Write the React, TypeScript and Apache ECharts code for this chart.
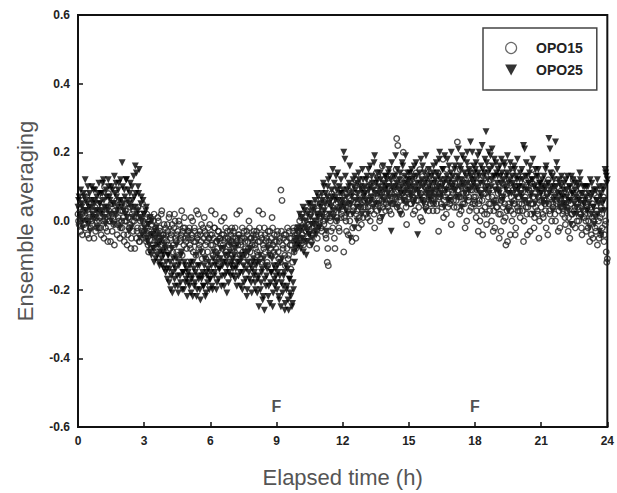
import React, { useEffect, useRef } from "react";
import * as echarts from "echarts";

// Sampling step of the ensemble-averaged records (hours).
// Set A is sampled at k*STEP, set B at k*STEP + STEP/2.
const TIME_STEP = 0.05;

// OPO15, set A: one row per hour (20 samples / hour), last value at 24 h
const OPO15_A: number[] = [
  0.02,-0.01,0.05,0.0,-0.04,0.03,0.01,-0.02,0.07,0.0,-0.05,0.02,0.04,-0.01,0.01,0.06,-0.03,0.0,0.03,-0.02,
  0.01,-0.04,0.04,0.0,0.1,-0.02,0.02,-0.06,0.03,0.0,0.05,-0.03,0.01,-0.07,0.02,0.06,-0.01,0.0,-0.05,0.03,
  -0.02,0.01,-0.06,0.03,0.0,-0.04,0.05,-0.01,-0.08,0.02,-0.03,0.0,0.04,-0.05,-0.02,0.01,-0.06,0.02,-0.03,0.0,
  -0.03,0.01,-0.06,-0.02,-0.09,0.0,-0.04,-0.01,-0.07,0.02,-0.05,-0.03,-0.08,0.0,-0.02,-0.06,0.03,-0.04,-0.01,-0.05,
  -0.04,-0.01,-0.07,0.02,-0.05,-0.03,-0.09,-0.02,0.0,-0.06,-0.04,-0.1,-0.01,-0.05,0.03,-0.03,-0.07,-0.02,-0.06,-0.04,
  -0.05,-0.02,-0.08,-0.04,0.0,-0.06,-0.03,-0.1,-0.05,0.02,-0.07,-0.04,-0.01,-0.09,-0.05,-0.03,-0.11,-0.06,-0.02,-0.05,
  -0.04,0.03,-0.07,-0.05,-0.02,-0.09,-0.06,-0.03,-0.11,-0.05,0.0,-0.08,-0.04,-0.06,-0.02,-0.1,-0.05,-0.07,-0.03,-0.06,
  -0.06,-0.03,-0.09,-0.05,0.02,-0.07,-0.04,-0.1,-0.06,-0.02,-0.12,-0.05,-0.08,-0.03,-0.06,0.0,-0.09,-0.05,-0.07,-0.04,
  -0.05,-0.08,-0.03,-0.1,0.03,-0.06,-0.04,-0.12,-0.07,-0.02,-0.09,-0.05,-0.13,-0.06,-0.03,-0.08,0.01,-0.07,-0.04,-0.1,
  -0.06,-0.03,-0.11,-0.05,0.09,0.06,-0.08,-0.04,-0.13,-0.06,-0.02,-0.1,-0.05,-0.14,-0.07,-0.03,-0.09,-0.04,-0.06,-0.02,
  -0.03,0.0,-0.05,0.02,-0.02,-0.06,0.01,-0.03,0.04,-0.01,-0.07,0.0,-0.04,0.03,-0.02,0.05,-0.01,-0.05,0.02,0.0,
  0.01,-0.03,0.04,-0.01,0.06,-0.05,-0.12,-0.13,0.02,0.0,0.08,-0.02,0.03,-0.08,0.05,0.01,0.1,-0.03,0.04,0.02,
  0.03,-0.09,0.06,0.0,0.08,-0.04,0.05,0.02,0.1,-0.02,0.04,0.07,-0.05,0.03,0.11,0.01,0.06,-0.01,0.09,0.04,
  0.06,0.02,0.09,0.04,0.12,0.0,0.07,0.05,0.1,-0.02,0.08,0.03,0.13,0.06,0.01,0.09,0.16,0.05,0.07,0.03,
  0.08,0.04,0.11,0.06,0.02,0.09,0.13,0.05,0.1,0.24,0.22,0.07,0.03,0.12,0.08,0.2,0.06,0.1,-0.01,0.09,
  0.07,0.11,0.05,0.09,0.02,0.13,0.08,0.06,0.1,0.04,0.15,0.08,0.0,0.11,0.07,0.05,0.12,0.09,0.03,0.08,
  0.06,0.1,0.03,0.08,0.13,0.05,0.09,-0.03,0.07,0.11,0.04,0.18,0.06,0.09,0.02,0.08,0.12,0.05,0.07,0.1,
  0.08,0.04,0.11,0.06,0.23,0.09,0.02,0.07,0.12,0.05,0.1,-0.02,0.08,0.14,0.06,0.03,0.09,0.11,0.05,0.07,
  0.05,0.01,0.09,-0.03,0.06,0.12,0.03,-0.04,0.08,0.04,0.1,0.02,0.07,0.16,0.05,0.0,0.09,0.03,-0.02,0.06,
  0.04,0.08,-0.05,0.02,0.06,0.11,0.0,0.05,-0.07,0.03,0.09,0.04,-0.04,0.07,0.14,0.02,0.05,-0.02,0.08,0.03,
  0.05,0.01,0.08,0.03,-0.06,0.06,0.12,0.02,0.04,0.09,-0.03,0.05,0.15,0.07,0.01,0.04,0.1,0.02,-0.05,0.06,
  0.04,0.08,0.01,0.06,0.03,0.11,-0.04,0.05,0.02,0.09,0.14,0.04,0.07,0.0,0.05,0.1,0.03,-0.02,0.06,0.04,
  0.03,0.06,-0.01,0.04,0.09,0.01,-0.05,0.05,0.02,0.12,0.03,-0.02,0.07,0.04,0.0,0.08,0.02,-0.04,0.05,0.01,
  0.02,-0.03,0.05,0.0,-0.06,0.04,0.01,-0.05,0.08,-0.02,0.03,-0.07,0.0,0.06,-0.04,0.02,0.1,-0.06,-0.01,-0.09,
  -0.11,
];

// OPO15, set B (half-step offsets), one row per hour
const OPO15_B: number[] = [
  0.0,0.04,-0.03,0.02,0.06,-0.01,0.03,0.08,-0.04,0.01,0.05,-0.02,0.0,0.03,-0.05,0.04,0.01,-0.02,0.06,0.0,
  -0.02,0.03,0.07,-0.05,0.01,0.04,-0.03,0.08,0.0,-0.06,0.02,0.05,-0.01,0.03,0.09,-0.04,0.01,0.06,-0.02,0.0,
  0.03,-0.04,0.0,0.05,-0.07,0.01,-0.02,0.04,-0.05,0.0,0.03,-0.08,0.01,-0.03,0.04,-0.06,0.0,-0.02,0.05,-0.04,
  -0.01,-0.05,0.02,-0.07,-0.03,0.01,-0.08,-0.04,0.0,-0.06,-0.02,-0.09,0.01,-0.05,-0.03,0.02,-0.07,-0.04,-0.08,-0.02,
  -0.06,-0.03,0.01,-0.08,-0.04,-0.01,-0.07,0.02,-0.05,-0.09,-0.03,0.0,-0.06,-0.04,-0.1,-0.02,0.01,-0.05,-0.08,-0.03,
  -0.03,-0.07,0.01,-0.05,-0.09,-0.02,-0.06,0.03,-0.04,-0.08,-0.03,-0.06,-0.11,-0.02,0.01,-0.07,-0.04,-0.09,-0.05,-0.01,
  -0.07,-0.04,-0.1,-0.02,0.02,-0.06,-0.08,-0.03,-0.05,-0.12,-0.04,-0.07,0.01,-0.05,-0.09,-0.03,-0.06,-0.11,-0.04,-0.02,
  -0.05,-0.08,-0.02,-0.06,-0.11,-0.04,0.03,-0.07,-0.05,-0.09,-0.03,-0.06,-0.1,-0.04,-0.08,-0.02,-0.05,-0.12,-0.06,-0.03,
  -0.07,-0.04,-0.09,-0.06,-0.02,-0.11,-0.05,0.02,-0.08,-0.04,-0.06,-0.12,-0.03,-0.07,-0.1,-0.05,-0.02,-0.09,-0.06,-0.08,
  -0.04,-0.09,-0.06,-0.12,-0.03,-0.07,-0.05,-0.1,-0.04,-0.08,-0.11,-0.03,-0.07,-0.05,-0.12,-0.02,-0.06,-0.08,-0.04,-0.05,
  -0.05,-0.02,0.01,-0.04,-0.07,0.0,-0.03,0.03,-0.05,-0.01,0.02,-0.06,-0.02,0.04,-0.03,0.0,-0.08,0.03,-0.01,0.05,
  -0.02,0.03,0.0,0.07,-0.04,0.02,-0.08,0.05,0.01,-0.03,0.06,0.02,-0.05,0.09,0.0,0.04,-0.02,0.07,0.01,0.05,
  0.05,0.01,0.08,-0.03,0.04,0.09,0.0,0.06,-0.06,0.03,0.07,0.12,0.02,0.05,-0.02,0.08,0.04,0.1,0.01,0.06,
  0.04,0.08,0.01,0.1,0.06,0.03,0.11,0.07,0.02,0.09,0.14,0.05,0.08,0.0,0.1,0.06,0.04,0.12,0.08,0.05,
  0.1,0.06,0.03,0.13,0.08,0.05,0.11,0.07,0.15,0.04,0.09,0.12,0.06,0.02,0.1,0.14,0.07,0.04,0.11,0.08,
  0.09,0.05,0.12,0.07,0.1,0.03,0.14,0.08,0.06,0.11,0.01,0.09,0.13,0.06,0.1,0.04,0.08,0.15,0.07,0.05,
  0.08,0.12,0.05,0.1,0.07,0.03,0.14,0.08,0.11,0.05,0.09,0.01,0.12,0.07,0.15,0.04,0.1,0.06,-0.01,0.09,
  0.06,0.1,0.13,0.04,0.09,0.07,0.15,0.03,0.11,0.08,0.05,0.12,0.0,0.1,0.07,0.16,0.04,0.09,0.13,0.06,
  0.07,0.03,0.11,0.05,0.0,0.09,0.06,0.13,0.02,0.08,-0.01,0.1,0.05,0.03,0.12,0.07,-0.03,0.06,0.1,0.04,
  0.06,0.02,0.1,-0.03,0.07,0.04,0.12,0.01,0.08,-0.06,0.05,0.11,0.03,0.0,0.09,0.06,-0.04,0.1,0.04,0.07,
  0.03,0.09,0.05,0.13,0.0,0.07,0.04,-0.04,0.1,0.06,0.02,0.11,0.05,-0.02,0.08,0.12,0.03,0.07,0.0,0.09,
  0.06,0.02,0.1,0.05,-0.02,0.08,0.12,0.03,0.07,0.0,0.05,0.09,0.02,0.11,0.06,-0.03,0.08,0.04,0.12,0.02,
  0.05,0.01,0.08,0.03,-0.03,0.06,0.1,0.02,-0.01,0.07,0.04,0.09,0.0,0.05,0.11,0.02,-0.02,0.06,0.03,0.08,
  0.0,0.04,-0.02,0.07,0.02,-0.04,0.05,0.0,0.09,-0.03,0.03,0.06,-0.05,0.01,0.04,-0.02,0.07,-0.04,0.0,-0.12,
];

// OPO25, set A: one row per hour (20 samples / hour), last value at 24 h
const OPO25_A: number[] = [
  0.04,0.07,0.01,0.05,-0.02,0.08,0.03,0.06,0.0,0.1,0.04,-0.03,0.06,0.02,0.09,0.05,0.01,0.07,0.03,0.11,
  0.05,0.02,0.08,0.12,0.04,-0.01,0.07,0.03,0.1,0.06,0.0,0.09,0.05,0.13,0.02,0.07,0.04,0.11,-0.02,0.06,
  0.17,0.05,0.09,0.02,0.12,0.06,-0.03,0.08,0.04,0.1,0.01,0.07,0.16,0.14,0.03,0.08,-0.05,0.05,0.0,0.06,
  0.02,-0.03,0.04,-0.06,-0.01,-0.09,-0.04,0.0,-0.08,-0.12,-0.05,-0.02,-0.1,-0.07,-0.13,-0.06,-0.11,-0.09,-0.14,-0.08,
  -0.12,-0.17,-0.1,-0.14,-0.2,-0.08,-0.15,-0.13,-0.19,-0.11,-0.16,-0.21,-0.12,-0.18,-0.09,-0.15,-0.2,-0.13,-0.17,-0.22,
  -0.15,-0.19,-0.12,-0.17,-0.22,-0.14,-0.18,-0.1,-0.2,-0.16,-0.13,-0.23,-0.17,-0.15,-0.19,-0.11,-0.21,-0.16,-0.14,-0.2,
  -0.17,-0.13,-0.2,-0.09,-0.15,-0.12,-0.18,-0.06,-0.14,-0.11,-0.19,-0.13,-0.08,-0.16,-0.12,-0.21,-0.1,-0.15,-0.07,-0.13,
  -0.11,-0.16,-0.08,-0.14,-0.19,-0.12,-0.05,-0.15,-0.1,-0.2,-0.13,-0.09,-0.17,-0.22,-0.12,-0.15,-0.08,-0.18,-0.14,-0.11,
  -0.15,-0.2,-0.12,-0.17,-0.25,-0.1,-0.18,-0.14,-0.22,-0.26,-0.13,-0.16,-0.08,-0.19,-0.24,-0.15,-0.11,-0.21,-0.17,-0.14,
  -0.18,-0.13,-0.22,-0.16,-0.25,-0.11,-0.19,-0.15,-0.24,-0.2,-0.14,-0.26,-0.17,-0.22,-0.25,-0.18,-0.09,-0.06,-0.03,-0.07,
  -0.05,0.02,-0.08,-0.02,0.04,-0.06,0.0,-0.1,-0.03,0.05,-0.04,0.01,-0.07,0.03,-0.01,0.06,-0.04,0.02,0.07,-0.02,
  0.04,0.08,0.01,0.1,0.05,-0.03,0.07,0.12,0.02,0.06,0.09,0.15,0.03,0.07,0.13,0.0,0.06,0.1,0.04,0.08,
  0.06,0.2,0.18,0.03,0.09,0.05,0.11,-0.05,0.07,0.02,0.1,0.13,0.06,0.0,0.08,0.12,0.04,0.09,0.15,0.07,
  0.1,0.06,0.13,0.02,0.09,0.16,0.07,0.11,0.04,0.19,0.08,0.12,0.05,0.1,0.14,0.07,0.01,0.11,0.09,0.13,
  0.12,0.08,0.15,0.05,-0.03,0.1,0.13,0.07,0.19,0.11,0.04,0.09,0.14,0.08,0.17,0.06,0.11,0.19,0.09,0.12,
  0.1,0.14,0.07,0.12,0.05,0.16,0.09,0.13,-0.04,0.08,0.11,0.18,0.06,0.1,0.14,0.03,0.12,0.09,0.15,0.07,
  0.11,0.08,0.14,0.05,0.12,0.17,0.09,0.13,0.2,0.07,0.1,0.15,0.04,0.12,0.09,0.18,0.11,0.06,0.14,0.1,
  0.13,0.09,0.16,0.07,0.12,0.21,0.1,0.15,0.04,0.11,0.18,0.08,0.13,0.2,0.09,0.14,0.23,0.12,0.1,0.16,
  0.12,0.17,0.09,0.14,0.2,0.11,0.07,0.15,0.13,0.18,0.26,0.1,0.14,0.08,0.19,0.12,0.16,0.05,0.13,0.17,
  0.11,0.15,0.08,0.13,0.18,0.06,0.12,0.16,0.09,0.14,0.03,0.11,0.17,0.08,0.13,0.1,0.15,0.07,0.12,0.09,
  0.1,0.14,0.07,0.12,0.22,0.21,0.09,0.13,0.05,0.11,0.16,0.08,0.12,0.02,0.1,0.15,0.07,0.13,0.09,0.11,
  0.08,0.12,0.05,0.1,0.15,0.07,0.11,0.24,0.21,0.09,0.13,0.06,0.1,0.23,0.17,0.08,0.12,0.04,0.1,0.07,
  0.07,0.11,0.04,0.09,0.13,0.06,0.1,-0.01,0.08,0.12,0.05,0.09,0.02,0.11,0.06,0.14,0.08,0.03,0.1,0.05,
  0.06,0.1,0.03,0.08,-0.02,0.07,0.11,0.04,0.09,0.01,0.06,0.12,0.05,-0.03,0.08,0.03,0.1,0.06,0.15,0.13,
  0.12,
];

// OPO25, set B (half-step offsets), one row per hour
const OPO25_B: number[] = [
  0.06,0.02,0.09,0.04,0.0,0.07,0.12,0.03,0.05,-0.01,0.08,0.04,0.1,0.01,0.06,0.09,0.03,-0.02,0.08,0.05,
  0.08,0.03,0.11,0.06,0.01,0.09,0.04,0.12,0.07,0.02,0.1,0.05,-0.01,0.08,0.11,0.03,0.09,0.06,0.12,0.04,
  0.1,0.03,0.07,0.12,0.01,0.09,0.05,0.11,-0.02,0.06,0.13,0.04,0.08,0.02,0.1,0.15,0.01,0.07,-0.04,0.02,
  -0.02,0.03,-0.05,-0.01,-0.07,0.01,-0.1,-0.04,-0.08,-0.03,-0.11,-0.07,-0.04,-0.12,-0.09,-0.05,-0.13,-0.1,-0.07,-0.15,
  -0.14,-0.1,-0.18,-0.12,-0.16,-0.21,-0.11,-0.17,-0.14,-0.07,-0.19,-0.13,-0.16,-0.1,-0.2,-0.15,-0.12,-0.18,-0.14,-0.16,
  -0.18,-0.13,-0.21,-0.16,-0.12,-0.19,-0.15,-0.22,-0.13,-0.17,-0.2,-0.09,-0.16,-0.19,-0.13,-0.22,-0.15,-0.18,-0.12,-0.17,
  -0.15,-0.19,-0.11,-0.16,-0.13,-0.2,-0.1,-0.17,-0.14,-0.08,-0.16,-0.12,-0.19,-0.1,-0.15,-0.13,-0.18,-0.09,-0.16,-0.12,
  -0.14,-0.1,-0.17,-0.13,-0.07,-0.16,-0.12,-0.19,-0.11,-0.15,-0.18,-0.1,-0.14,-0.2,-0.09,-0.17,-0.13,-0.21,-0.12,-0.16,
  -0.18,-0.13,-0.21,-0.16,-0.12,-0.2,-0.15,-0.23,-0.11,-0.17,-0.19,-0.14,-0.22,-0.1,-0.18,-0.15,-0.25,-0.13,-0.19,-0.16,
  -0.2,-0.15,-0.23,-0.12,-0.18,-0.21,-0.16,-0.26,-0.13,-0.19,-0.23,-0.17,-0.21,-0.15,-0.24,-0.2,-0.12,-0.08,-0.05,-0.02,
  -0.07,-0.03,0.01,-0.05,-0.09,0.03,-0.02,-0.06,0.02,-0.04,0.05,-0.01,-0.05,0.04,0.0,-0.03,0.08,0.01,-0.02,0.05,
  0.02,0.06,0.11,0.03,0.08,0.0,0.1,0.05,0.13,0.04,0.07,0.01,0.11,0.06,0.09,0.14,0.03,0.08,0.12,0.05,
  0.09,0.04,0.13,0.07,0.02,0.1,0.16,0.05,0.08,0.12,-0.02,0.09,0.04,0.11,0.14,0.06,0.1,0.02,0.12,0.08,
  0.08,0.12,0.05,0.15,0.1,0.06,0.13,0.09,0.17,0.05,0.11,0.14,0.08,0.03,0.12,0.09,0.16,0.06,0.13,0.1,
  0.1,0.14,0.07,0.12,0.17,0.09,0.05,0.13,0.1,0.15,0.07,0.12,0.02,0.1,0.16,0.08,0.13,0.05,0.11,0.14,
  0.12,0.08,0.15,0.1,0.13,0.06,0.17,0.11,0.09,0.14,0.07,0.12,0.16,0.05,0.11,0.19,0.08,0.13,0.1,0.06,
  0.13,0.09,0.16,0.11,0.07,0.14,0.1,0.18,0.12,0.08,0.15,0.11,0.19,0.09,0.13,0.06,0.16,0.12,0.2,0.1,
  0.11,0.15,0.09,0.18,0.13,0.07,0.16,0.12,0.19,0.1,0.14,0.06,0.17,0.11,0.15,0.09,0.13,0.2,0.11,0.14,
  0.15,0.1,0.19,0.13,0.08,0.16,0.22,0.11,0.14,0.09,0.17,0.12,0.2,0.15,0.1,0.21,0.13,0.18,0.09,0.14,
  0.13,0.09,0.16,0.11,0.14,0.07,0.17,0.1,0.13,0.19,0.08,0.12,0.15,0.05,0.11,0.16,0.09,0.13,0.18,0.1,
  0.12,0.08,0.15,0.1,0.06,0.13,0.17,0.09,0.11,0.14,0.07,0.12,0.18,0.1,0.05,0.13,0.09,0.15,0.11,0.08,
  0.1,0.06,0.13,0.09,0.16,0.05,0.11,0.08,0.14,0.1,0.03,0.12,0.07,0.1,0.15,0.06,0.11,0.08,0.13,0.05,
  0.09,0.05,0.12,0.07,0.03,0.1,0.06,0.13,0.08,0.02,0.11,0.07,0.04,0.1,0.06,0.12,0.01,0.08,0.05,0.1,
  0.07,0.03,0.1,0.05,0.12,0.02,0.08,0.04,-0.01,0.09,0.06,0.02,0.1,0.07,-0.04,0.05,0.09,0.03,0.14,0.11,
];

// Annotation: feeding times marked "F"
const FEED_TIMES = [9, 18];
const FEED_LABEL_Y = -0.54;

const X_TICKS = { min: 0, max: 24, interval: 3 };
const Y_TICKS = { min: -0.6, max: 0.6, interval: 0.2 };

const round3 = (t: number) => Math.round(t * 1000) / 1000;
const mergeSets = (a: number[], b: number[]) => {
  const out: number[][] = [];
  a.forEach((v, i) => {
    out.push([round3(i * TIME_STEP), v]);
    if (i < b.length) out.push([round3(i * TIME_STEP + TIME_STEP / 2), b[i]]);
  });
  return out;
};

const FONT = "'Liberation Sans', Arial, sans-serif";
const DOWN_TRIANGLE = "path://M0,0L10,0L5,9Z";

export default function App() {
  const ref = useRef<HTMLDivElement>(null);
  useEffect(() => {
    if (!ref.current) return;
    const chart = echarts.init(ref.current, undefined, { renderer: "svg" });
    chart.setOption({
      animation: false,
      backgroundColor: "#ffffff",
      grid: {
        left: 78,
        right: 9,
        top: 15,
        bottom: 65,
        show: true,
        borderColor: "#111",
        borderWidth: 2,
        backgroundColor: "transparent",
      },
      legend: {
        orient: "vertical",
        left: 483,
        top: 28,
        borderColor: "#444",
        borderWidth: 1.5,
        padding: [13, 14, 13, 22],
        itemWidth: 12,
        itemHeight: 11,
        itemGap: 8,
        textStyle: {
          fontFamily: FONT,
          fontWeight: "bold",
          fontSize: 14,
          color: "#222",
          padding: [0, 0, 0, 14],
        },
        data: [
          { name: "OPO15", itemStyle: { color: "#ffffff", borderColor: "#444", borderWidth: 1.2 } },
          { name: "OPO25", icon: DOWN_TRIANGLE },
        ],
      },
      xAxis: {
        type: "value",
        min: X_TICKS.min,
        max: X_TICKS.max,
        interval: X_TICKS.interval,
        name: "Elapsed time (h)",
        nameLocation: "middle",
        nameGap: 39,
        nameTextStyle: { fontFamily: FONT, fontSize: 22, color: "#555" },
        axisLine: { onZero: false, lineStyle: { color: "#111", width: 2 } },
        axisTick: { inside: true, length: 5, lineStyle: { color: "#111", width: 1.5 } },
        axisLabel: { fontFamily: FONT, fontWeight: "bold", fontSize: 12, color: "#222", margin: 8 },
        splitLine: { show: false },
      },
      yAxis: {
        type: "value",
        min: Y_TICKS.min,
        max: Y_TICKS.max,
        interval: Y_TICKS.interval,
        name: "Ensemble averaging",
        nameLocation: "middle",
        nameGap: 42,
        nameRotate: 90,
        nameTextStyle: { fontFamily: FONT, fontSize: 22, color: "#555" },
        axisLine: { onZero: false, lineStyle: { color: "#111", width: 2 } },
        axisTick: { inside: true, length: 5, lineStyle: { color: "#111", width: 1.5 } },
        axisLabel: {
          fontFamily: FONT,
          fontWeight: "bold",
          fontSize: 12,
          color: "#222",
          margin: 8,
          formatter: (v: number) => v.toFixed(1),
        },
        splitLine: { show: false },
      },
      series: [
        {
          name: "OPO25",
          type: "scatter",
          symbol: "triangle",
          symbolRotate: 180,
          symbolSize: 7,
          itemStyle: { color: "#000" },
          data: mergeSets(OPO25_A, OPO25_B),
        },
        {
          name: "OPO15",
          type: "scatter",
          symbol: "circle",
          symbolSize: 5.5,
          itemStyle: { color: "rgba(255,255,255,0)", borderColor: "#222", borderWidth: 1.4 },
          data: mergeSets(OPO15_A, OPO15_B),
        },
        {
          name: "F",
          type: "scatter",
          symbolSize: 0,
          silent: true,
          label: {
            show: true,
            formatter: "F",
            position: "inside",
            fontFamily: FONT,
            fontWeight: "bold",
            fontSize: 16,
            color: "#222",
          },
          data: FEED_TIMES.map((t) => [t, FEED_LABEL_Y]),
        },
      ],
    });
    return () => chart.dispose();
  }, []);
  return (
    <div
      ref={ref}
      style={{ position: "absolute", left: 0, top: 0, width: 617, height: 493 }}
    />
  );
}
